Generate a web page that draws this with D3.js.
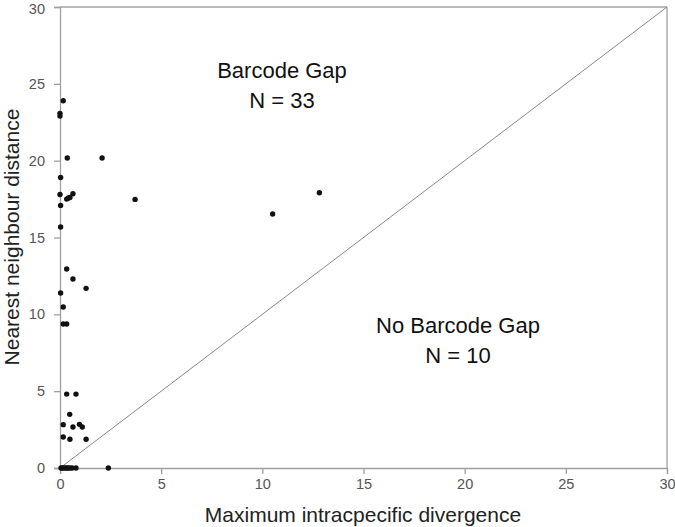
<!DOCTYPE html>
<html><head><meta charset="utf-8">
<script src="https://cdn.jsdelivr.net/npm/d3@7/dist/d3.min.js"></script>
<style>body{margin:0;background:#fff;} svg{display:block;font-family:"Liberation Sans",Arial,sans-serif;}</style>
</head><body>
<svg id="chart" width="675" height="527"></svg>
<script>
// Barcode-gap points (x = max intraspecific divergence, y = nearest neighbour distance)
const gapX = [0.16,0,0,0.36,2.08,0.03,0,0.33,0.41,0.49,0.64,0.03,3.71,10.51,12.82,0.03,0.33,0.64,1.29,0.03,0.16,0.16,0.33,0.33,0.79,0.48,0.16,0.64,0.96,1.1,0.16,0.49,1.29];
const gapY = [23.9,23.08,22.9,20.17,20.17,18.9,17.8,17.5,17.57,17.6,17.85,17.09,17.48,16.53,17.91,15.68,12.95,12.3,11.69,11.39,10.48,9.37,9.37,4.81,4.81,3.49,2.82,2.67,2.84,2.67,2.02,1.87,1.87];
// No-barcode-gap points
const noGapX = [0.05,0.1,0.16,0.25,0.33,0.4,0.49,0.6,0.79,2.39];
const noGapY = [0,0,0,0,0,0,0,0,0,0];
const xTicks = [0,5,10,15,20,25,30];
const yTicks = [0,5,10,15,20,25,30];

const svg = d3.select("#chart");
const m = {left:60, right:8, top:7, bottom:59};
const W = 675, H = 527;
const x = d3.scaleLinear().domain([0,30]).range([m.left, W-m.right]);
const y = d3.scaleLinear().domain([0,30]).range([H-m.bottom, m.top]);
const axisCol = "#a0a0a0";

// frame (top and right)
svg.append("line").attr("x1",x(0)).attr("x2",x(30)).attr("y1",y(30)).attr("y2",y(30)).attr("stroke",axisCol).attr("stroke-width",1.3);
svg.append("line").attr("x1",x(30)).attr("x2",x(30)).attr("y1",y(30)).attr("y2",y(0)).attr("stroke",axisCol).attr("stroke-width",1.3);

const xa = svg.append("g").attr("transform",`translate(0,${y(0)})`)
  .call(d3.axisBottom(x).tickValues(xTicks).tickSize(6).tickPadding(5));
const ya = svg.append("g").attr("transform",`translate(${x(0)},0)`)
  .call(d3.axisLeft(y).tickValues(yTicks).tickSize(6).tickPadding(9));
[xa,ya].forEach(g=>{
  g.selectAll("path,line").attr("stroke",axisCol).attr("stroke-width",1.3);
  g.selectAll("text").attr("fill","#555").style("font-size","14.5px");
});
// keep top label inside the picture
ya.selectAll(".tick text").filter(d=>d===30).attr("dy","0.45em");

// diagonal 1:1 line
svg.append("line").attr("x1",x(0)).attr("y1",y(0)).attr("x2",x(30)).attr("y2",y(30))
  .attr("stroke","#888").attr("stroke-width",1);

const pts = gapX.map((v,i)=>[v,gapY[i]]).concat(noGapX.map((v,i)=>[v,noGapY[i]]));
svg.append("g").selectAll("circle").data(pts).join("circle")
  .attr("cx",d=>x(d[0])).attr("cy",d=>y(d[1])).attr("r",2.7).attr("fill","#111");

// annotations
const ann = (t,cx,cy)=>svg.append("text").attr("x",cx).attr("y",cy).attr("text-anchor","middle")
  .attr("fill","#111").style("font-size","22px").text(t);
ann("Barcode Gap",282,78);
ann("N = 33",282,108);
ann("No Barcode Gap",458,333);
ann("N = 10",458,363);

// axis titles
svg.append("text").attr("x",363).attr("y",522).attr("text-anchor","middle").attr("fill","#222")
  .style("font-size","21px").text("Maximum intracpecific divergence");
svg.append("text").attr("transform","translate(19,237) rotate(-90)").attr("text-anchor","middle").attr("fill","#222")
  .style("font-size","21px").text("Nearest neighbour distance");
</script>
</body></html>
